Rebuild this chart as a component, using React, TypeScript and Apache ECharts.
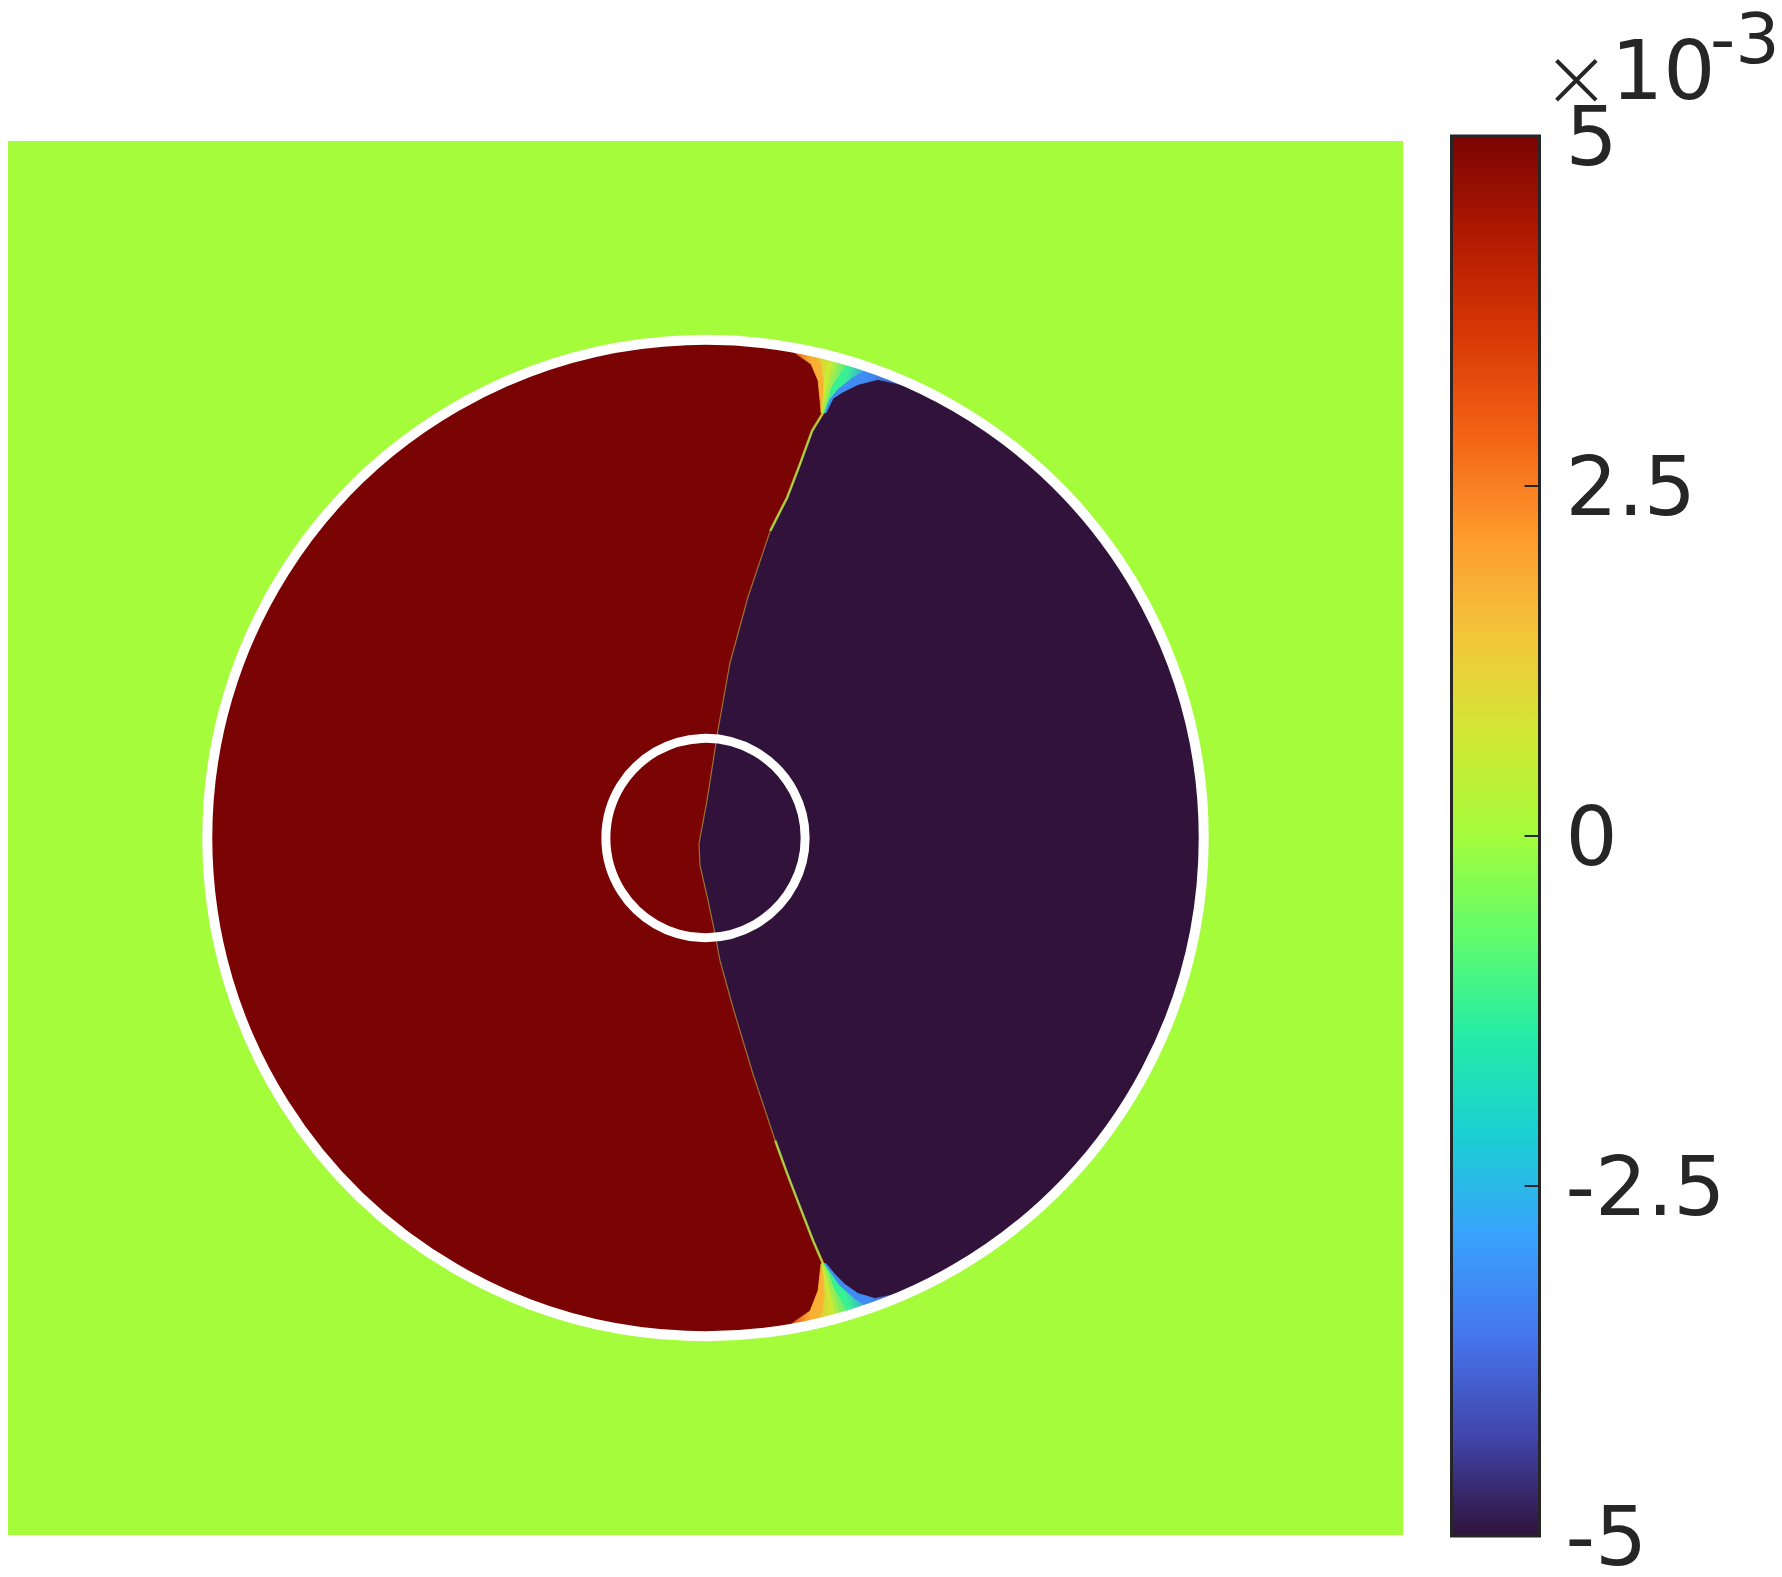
import React, { useEffect, useRef } from "react";
import * as echarts from "echarts";

// ---- domain and field values (units of 1e-3) ----
const xRange = [-1.4, 1.4];
const yRange = [-1.4, 1.4];
const backgroundValue = 0;
const leftValue = 5;
const rightValue = -5;
const ringRadii = [1.0, 0.2];

// interface between the two states (top to bottom, data coords)
const interfaceCurve = [
  [0.214, 0.818], [0.19, 0.752], [0.164, 0.684], [0.13, 0.617], [0.085, 0.483],
  [0.049, 0.351], [0.025, 0.216], [0.003, 0.075], [-0.013, -0.011], [-0.011, -0.055],
  [0.005, -0.125], [0.019, -0.192], [0.029, -0.246], [0.055, -0.34], [0.095, -0.473],
  [0.14, -0.608], [0.164, -0.674], [0.19, -0.742], [0.216, -0.809],
];

// iso-contours of the transition fans, each from the outer ring down to the fan tip
const topContours = [
  [[0.164, 0.987], [0.18, 0.974], [0.212, 0.952], [0.226, 0.919], [0.23, 0.879], [0.232, 0.854]],
  [[0.214, 0.977], [0.232, 0.953], [0.238, 0.919], [0.236, 0.879], [0.234, 0.854]],
  [[0.254, 0.965], [0.254, 0.945], [0.246, 0.915], [0.24, 0.879], [0.236, 0.854]],
  [[0.29, 0.955], [0.274, 0.935], [0.254, 0.907], [0.246, 0.879], [0.238, 0.854]],
  [[0.33, 0.943], [0.294, 0.923], [0.266, 0.901], [0.25, 0.881], [0.24, 0.854]],
  [[0.461, 0.885], [0.401, 0.909], [0.346, 0.921], [0.306, 0.911], [0.274, 0.895], [0.256, 0.883], [0.242, 0.854]],
];
const bottomContours = [
  [[0.16, -0.987], [0.178, -0.972], [0.21, -0.95], [0.226, -0.909], [0.23, -0.873], [0.232, -0.855]],
  [[0.214, -0.979], [0.234, -0.953], [0.24, -0.913], [0.236, -0.873], [0.234, -0.855]],
  [[0.26, -0.969], [0.258, -0.941], [0.25, -0.909], [0.242, -0.873], [0.236, -0.855]],
  [[0.294, -0.959], [0.276, -0.933], [0.258, -0.903], [0.248, -0.873], [0.238, -0.855]],
  [[0.334, -0.945], [0.3, -0.925], [0.27, -0.899], [0.252, -0.873], [0.24, -0.855]],
  [[0.461, -0.888], [0.391, -0.915], [0.34, -0.925], [0.306, -0.915], [0.28, -0.897], [0.26, -0.877], [0.242, -0.855]],
];
// field value on each contour (c0 .. c5)
const contourValues = [3.6, 1.8, 0.6, -1.2, -3.2, -4.5];

// ---- colour bar ----
const cbMin = -5;
const cbMax = 5;
const cbInterval = 2.5;
const cbTicks = [-5, -2.5, 0, 2.5, 5];
const exponentTimes = "×";
const exponentBase = "10";
const exponentPower = "-3";

const turbo = [
  "#30123b", "#4145ab", "#4675ed", "#39a2fc", "#1bcfd4", "#24eca6", "#61fc6c", "#a4fc3b",
  "#d1e834", "#f3c63a", "#fe9b2d", "#f36315", "#d93806", "#b11901", "#7a0403",
];

const INK = "#262626";
const FONT = "DejaVu Sans";

function hexRgb(h: string) {
  return [parseInt(h.slice(1, 3), 16), parseInt(h.slice(3, 5), 16), parseInt(h.slice(5, 7), 16)];
}
function turboColor(v: number) {
  let t = (v - cbMin) / (cbMax - cbMin);
  t = Math.max(0, Math.min(1, t));
  const pos = t * (turbo.length - 1);
  const i = Math.min(turbo.length - 2, Math.floor(pos));
  const f = pos - i;
  const a = hexRgb(turbo[i]);
  const b = hexRgb(turbo[i + 1]);
  const c = a.map((x, k) => Math.round(x + (b[k] - x) * f));
  return `rgb(${c[0]},${c[1]},${c[2]})`;
}

function buildOption() {
  const nb = contourValues.length - 1;
  const bandItems: number[][] = [];
  for (let i = 0; i < 2 * nb; i++) bandItems.push([i, contourValues[i % nb]]);

  const cbStops = turbo
    .slice()
    .reverse()
    .map((c, i) => ({ offset: i / (turbo.length - 1), color: c }));

  return {
    animation: false,
    backgroundColor: "#ffffff",
    grid: [
      { left: 8, top: 141, width: 1395, height: 1394 },
      { left: 1451.5, top: 136, width: 88, height: 1401 },
    ],
    xAxis: [
      { gridIndex: 0, type: "value", min: xRange[0], max: xRange[1], show: false },
      { gridIndex: 1, type: "value", min: 0, max: 1, show: false },
    ],
    yAxis: [
      { gridIndex: 0, type: "value", min: yRange[0], max: yRange[1], show: false },
      {
        gridIndex: 1,
        type: "value",
        min: cbMin,
        max: cbMax,
        interval: cbInterval,
        position: "right",
        axisLine: { show: false },
        splitLine: { show: false },
        axisTick: { show: false },
        axisLabel: {
          show: true,
          margin: 26,
          fontSize: 82,
          lineHeight: 64,
          fontFamily: FONT,
          color: INK,
          showMinLabel: true,
          showMaxLabel: true,
          formatter: (v: number) => String(v),
        },
      },
    ],
    visualMap: {
      type: "continuous",
      show: false,
      min: cbMin,
      max: cbMax,
      dimension: 1,
      seriesIndex: [0, 1, 2],
      inRange: { color: turbo },
    },
    graphic: [
      {
        type: "text",
        z: 100,
        style: {
          text: exponentTimes,
          x: 1542,
          y: 77,
          font: `200 82px "${FONT}"`,
          lineHeight: 56,
          fill: INK,
          align: "left",
          verticalAlign: "middle",
        },
      },
      {
        type: "text",
        z: 100,
        style: {
          text: exponentBase,
          x: 1611,
          y: 70,
          font: `82px "${FONT}"`,
          lineHeight: 64,
          fill: INK,
          align: "left",
          verticalAlign: "middle",
        },
      },
      {
        type: "text",
        z: 100,
        style: {
          text: exponentPower,
          x: 1710,
          y: 39,
          font: `70px "${FONT}"`,
          lineHeight: 56,
          fill: INK,
          align: "left",
          verticalAlign: "middle",
        },
      },
    ],
    series: [
      {
        // background field
        type: "custom",
        xAxisIndex: 0,
        yAxisIndex: 0,
        data: [[0, backgroundValue]],
        renderItem: (params: any, api: any) => {
          const p1 = api.coord([xRange[0], yRange[1]]);
          const p2 = api.coord([xRange[1], yRange[0]]);
          return {
            type: "rect",
            shape: { x: p1[0], y: p1[1], width: p2[0] - p1[0], height: p2[1] - p1[1] },
            style: { fill: api.visual("color") },
          };
        },
      },
      {
        // left state: full disk
        type: "custom",
        xAxisIndex: 0,
        yAxisIndex: 0,
        data: [[0, leftValue]],
        renderItem: (params: any, api: any) => {
          const c = api.coord([0, 0]);
          const r = api.size([ringRadii[0], 0])[0];
          return { type: "circle", shape: { cx: c[0], cy: c[1], r }, style: { fill: api.visual("color") } };
        },
      },
      {
        // right state: bounded by interface and the right arc of the ring
        type: "custom",
        xAxisIndex: 0,
        yAxisIndex: 0,
        data: [[0, rightValue]],
        renderItem: (params: any, api: any) => {
          const topEdge = topContours[topContours.length - 1];
          const botEdge = bottomContours[bottomContours.length - 1].slice().reverse();
          const pts = topEdge.concat(interfaceCurve, botEdge).map((p) => api.coord(p));
          const c = api.coord([0, 0]);
          const r = api.size([ringRadii[0], 0])[0];
          const first = pts[0];
          const last = pts[pts.length - 1];
          const a0 = Math.atan2(last[1] - c[1], last[0] - c[0]);
          const a1 = Math.atan2(first[1] - c[1], first[0] - c[0]);
          const n = 120;
          for (let i = 1; i < n; i++) {
            const a = a0 + ((a1 - a0) * i) / n;
            pts.push([c[0] + r * Math.cos(a), c[1] + r * Math.sin(a)]);
          }
          return { type: "polygon", shape: { points: pts }, style: { fill: api.visual("color") } };
        },
      },
      {
        // transition fans: each band shaded between the values of its two contours
        type: "custom",
        xAxisIndex: 0,
        yAxisIndex: 0,
        data: bandItems,
        renderItem: (params: any, api: any) => {
          const idx = params.dataIndex;
          const set = idx < nb ? topContours : bottomContours;
          const i = idx % nb;
          const a = set[i].map((p) => api.coord(p));
          const b = set[i + 1].map((p) => api.coord(p));
          const poly = a.concat(b.slice().reverse());
          const g = new echarts.graphic.LinearGradient(
            a[0][0], a[0][1], b[0][0], b[0][1],
            [
              { offset: 0, color: turboColor(contourValues[i]) },
              { offset: 1, color: turboColor(contourValues[i + 1]) },
            ],
            true
          );
          return {
            type: "polygon",
            shape: { points: poly },
            style: { fill: g, stroke: g, lineWidth: 0.8 },
          };
        },
      },
      {
        // thin mixed layer along the interface
        type: "custom",
        xAxisIndex: 0,
        yAxisIndex: 0,
        data: [[0, 0]],
        renderItem: (params: any, api: any) => {
          const tTip = topContours[2][topContours[2].length - 1];
          const bTip = bottomContours[2][bottomContours[2].length - 1];
          const all = [tTip].concat(interfaceCurve, [bTip]).map((p) => api.coord(p));
          const upper = [tTip].concat(interfaceCurve.slice(0, 4)).map((p) => api.coord(p));
          const lower = interfaceCurve.slice(interfaceCurve.length - 4).concat([bTip]).map((p) => api.coord(p));
          return {
            type: "group",
            children: [
              { type: "polyline", shape: { points: all }, style: { stroke: "#e2d65a", lineWidth: 1.2, opacity: 0.5, fill: null } },
              { type: "polyline", shape: { points: upper }, style: { stroke: "#b4e94e", lineWidth: 2.5, opacity: 0.8, fill: null } },
              { type: "polyline", shape: { points: lower }, style: { stroke: "#b4e94e", lineWidth: 2.5, opacity: 0.8, fill: null } },
            ],
          };
        },
      },
      {
        // white rings
        type: "custom",
        xAxisIndex: 0,
        yAxisIndex: 0,
        data: ringRadii.map((r, i) => [i, r]),
        renderItem: (params: any, api: any) => {
          const c = api.coord([0, 0]);
          const rr = ringRadii[params.dataIndex];
          const r = api.size([rr, 0])[0];
          return {
            type: "circle",
            shape: { cx: c[0], cy: c[1], r },
            style: { fill: null, stroke: "#ffffff", lineWidth: params.dataIndex === 0 ? 10 : 9 },
          };
        },
      },
      {
        // colour bar with inward ticks on its right edge
        type: "custom",
        xAxisIndex: 1,
        yAxisIndex: 1,
        data: [[0, cbMin]],
        renderItem: (params: any, api: any) => {
          const p1 = api.coord([0, cbMax]);
          const p2 = api.coord([1, cbMin]);
          const children: any[] = [
            {
              type: "rect",
              shape: { x: p1[0], y: p1[1], width: p2[0] - p1[0], height: p2[1] - p1[1] },
              style: {
                fill: new echarts.graphic.LinearGradient(0, 0, 0, 1, cbStops),
                stroke: INK,
                lineWidth: 3,
              },
            },
          ];
          cbTicks.forEach((v) => {
            const y = api.coord([1, v])[1];
            children.push({
              type: "line",
              shape: { x1: p2[0] - 15, y1: y, x2: p2[0], y2: y },
              style: { stroke: INK, lineWidth: 2 },
            });
          });
          return { type: "group", children };
        },
      },
    ],
  };
}

export default function App() {
  const ref = useRef<HTMLDivElement>(null);
  useEffect(() => {
    if (!ref.current) return;
    const chart = echarts.init(ref.current, undefined, { renderer: "svg" });
    chart.setOption(buildOption() as any);
    return () => chart.dispose();
  }, []);
  return (
    <div
      ref={ref}
      style={{ position: "absolute", left: 0, top: 0, width: 1782, height: 1577, background: "#fff" }}
    />
  );
}
